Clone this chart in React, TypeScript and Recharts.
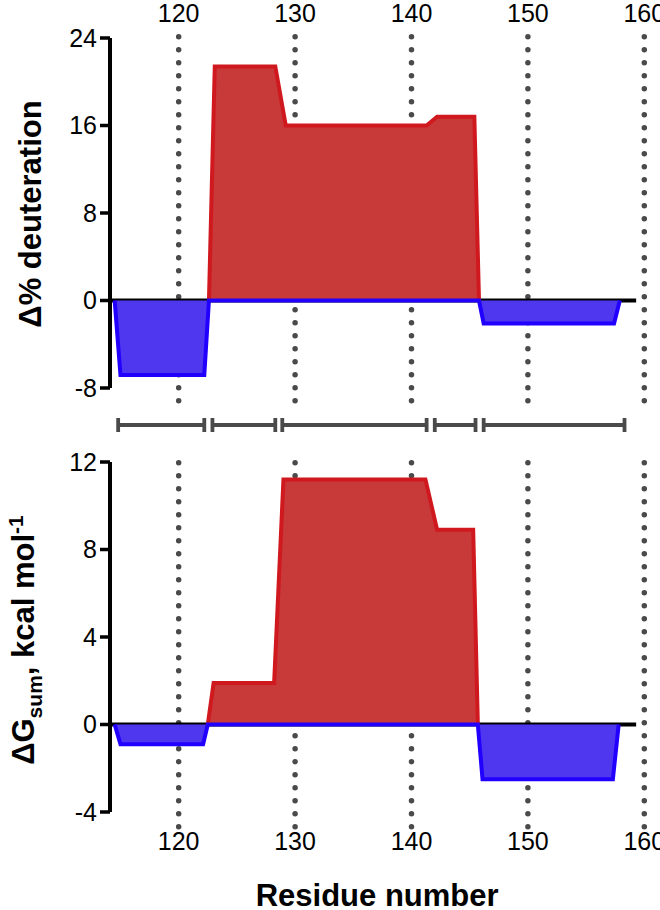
import React from "react";
import {
  ComposedChart,
  Area,
  XAxis,
  YAxis,
  ReferenceLine,
  Scatter,
  ErrorBar,
} from "recharts";

// residue axis
const residueTicks = [120, 130, 140, 150, 160];
const deutTicks = [-8, 0, 8, 16, 24];
const dgTicks = [-4, 0, 4, 8, 12];

// Δ% deuteration profile vertices
const deutResidues = [114.5, 115.0, 122.2, 122.6, 123.1, 128.3, 129.2, 141.3, 142.2, 145.4, 145.8, 146.2, 157.4, 157.9];
const deutValues = [0, -6.8, -6.8, 0, 21.4, 21.4, 16.0, 16.0, 16.8, 16.8, 0, -2.1, -2.1, 0];

// ΔGsum profile vertices
const dgResidues = [114.5, 115.0, 122.1, 122.5, 123.0, 128.2, 129.0, 141.2, 142.2, 145.3, 145.7, 146.1, 157.3, 157.8];
const dgValues = [0, -0.9, -0.9, 0, 1.9, 1.9, 11.2, 11.2, 8.9, 8.9, 0, -2.5, -2.5, 0];

// peptide coverage
const peptideStart = [114.8, 122.9, 128.9, 142.0, 146.2];
const peptideEnd = [122.2, 128.3, 141.3, 145.5, 158.3];

const X_DOMAIN: [number, number] = [114.1, 160];
const ZERO_END = 159.3;

const RED_FILL = "#C8393A";
const RED_LINE = "#D0191E";
const BLUE_FILL = "#4F37F0";
const BLUE_LINE = "#2200FF";
const DOT_GREY = "#4A4A4A";

// split into a positive (red) and a negative (blue) part
const toRows = (res: number[], vals: number[]) =>
  res.map((r, i) => {
    const v = vals[i];
    const prev = i > 0 ? vals[i - 1] : 0;
    const next = i < vals.length - 1 ? vals[i + 1] : 0;
    const pos = v > 0 || (v === 0 && (prev > 0 || next > 0)) ? v : null;
    return { residue: r, pos, neg: Math.min(v, 0) };
  });

const deutRows = toRows(deutResidues, deutValues);
const dgRows = toRows(dgResidues, dgValues);
const peptideRows = peptideStart.map((s, i) => ({
  mid: (s + peptideEnd[i]) / 2,
  half: (peptideEnd[i] - s) / 2,
  level: 0.5,
}));

const tickStyle = { fontSize: 25, fill: "#000" };
const axisLineStyle = { stroke: "#000", strokeWidth: 4 };
const tickLineStyle = { stroke: "#000", strokeWidth: 3.5 };

const DeutLabel = () => (
  <text
    x={41}
    y={214}
    transform="rotate(-90 41 214)"
    textAnchor="middle"
    fontSize={31}
    fontWeight="bold"
    fill="#000"
  >
    Δ% deuteration
  </text>
);

const DgLabel = () => (
  <text
    x={34}
    y={200}
    transform="rotate(-90 34 200)"
    textAnchor="middle"
    fontSize={31}
    fontWeight="bold"
    fill="#000"
  >
    ΔG
    <tspan dy={8} fontSize={21}>sum</tspan>
    <tspan dy={-8}>, kcal mol</tspan>
    <tspan dy={-11} fontSize={21}>-1</tspan>
  </text>
);

// background layer: dotted residue guides and the zero line, drawn under the areas
const GuideLayer: React.FC<{
  height: number;
  rows: any[];
  margin: { top: number; right: number; bottom: number; left: number };
  yDomain: [number, number];
  dotTop: number;
  dotBottom: number;
}> = ({ height, rows, margin, yDomain, dotTop, dotBottom }) => (
  <ComposedChart width={660} height={height} data={rows} margin={margin}>
    <XAxis type="number" dataKey="residue" domain={X_DOMAIN} ticks={residueTicks} hide />
    <YAxis type="number" domain={yDomain} hide />
    {/* invisible series so the axes get their scales */}
    <Area
      type="linear"
      dataKey="neg"
      stroke="none"
      fill="none"
      dot={false}
      activeDot={false}
      isAnimationActive={false}
    />
    {residueTicks.map((t) => (
      <ReferenceLine
        key={`dot-${t}`}
        segment={[
          { x: t, y: dotTop },
          { x: t, y: dotBottom },
        ]}
        stroke={DOT_GREY}
        strokeWidth={5.5}
        strokeDasharray="0 13"
        strokeLinecap="round"
        ifOverflow="visible"
      />
    ))}
    <ReferenceLine
      segment={[
        { x: X_DOMAIN[0], y: 0 },
        { x: ZERO_END, y: 0 },
      ]}
      stroke="#000"
      strokeWidth={4}
      ifOverflow="visible"
    />
  </ComposedChart>
);

const profileAreas = [
  <Area
    key="pos"
    type="linear"
    dataKey="pos"
    baseValue={0}
    fill={RED_FILL}
    fillOpacity={1}
    stroke={RED_LINE}
    strokeWidth={4}
    connectNulls={false}
    dot={false}
    activeDot={false}
    isAnimationActive={false}
  />,
  <Area
    key="neg"
    type="linear"
    dataKey="neg"
    baseValue={0}
    fill={BLUE_FILL}
    fillOpacity={1}
    stroke={BLUE_LINE}
    strokeWidth={4}
    dot={false}
    activeDot={false}
    isAnimationActive={false}
  />,
];

const layer = (top: number): React.CSSProperties => ({
  position: "absolute",
  left: 0,
  top,
});

const App: React.FC = () => {
  return (
    <div
      style={{
        position: "absolute",
        left: 0,
        top: 0,
        width: 660,
        height: 910,
        background: "#fff",
        fontFamily: '"Liberation Sans", Arial, Helvetica, sans-serif',
      }}
    >
      {/* top panel */}
      <div style={layer(0)}>
        <GuideLayer
          height={410}
          rows={deutRows}
          margin={{ top: 38, right: 15.7, bottom: 22, left: 110 }}
          yDomain={[-8, 24]}
          dotTop={24.12}
          dotBottom={-9.2}
        />
      </div>
      <div style={layer(0)}>
        <ComposedChart
          width={660}
          height={410}
          data={deutRows}
          margin={{ top: 0, right: 15.7, bottom: 22, left: 0 }}
        >
          <XAxis
            type="number"
            dataKey="residue"
            orientation="top"
            domain={X_DOMAIN}
            ticks={residueTicks}
            interval={0}
            height={38}
            axisLine={false}
            tickLine={false}
            tickSize={0}
            tickMargin={16}
            tick={tickStyle}
          />
          <YAxis
            type="number"
            domain={[-8, 24]}
            ticks={deutTicks}
            interval={0}
            width={110}
            axisLine={axisLineStyle}
            tickLine={tickLineStyle}
            tickSize={10}
            tickMargin={3}
            tick={tickStyle}
            label={<DeutLabel />}
          />
          {profileAreas}
        </ComposedChart>
      </div>

      {/* peptide coverage */}
      <div style={layer(410)}>
        <ComposedChart
          width={660}
          height={30}
          data={peptideRows}
          margin={{ top: 0, right: 15.7, bottom: 0, left: 110 }}
        >
          <XAxis type="number" dataKey="mid" domain={X_DOMAIN} hide />
          <YAxis type="number" dataKey="level" domain={[0, 1]} hide />
          <Scatter dataKey="level" shape={() => <g />} isAnimationActive={false}>
            <ErrorBar
              dataKey="half"
              direction="x"
              width={7}
              stroke={DOT_GREY}
              strokeWidth={3.8}
              isAnimationActive={false}
            />
          </Scatter>
        </ComposedChart>
      </div>

      {/* bottom panel */}
      <div style={layer(440)}>
        <GuideLayer
          height={470}
          rows={dgRows}
          margin={{ top: 22, right: 15.7, bottom: 98, left: 110 }}
          yDomain={[-4, 12]}
          dotTop={11.97}
          dotBottom={-4.7}
        />
      </div>
      <div style={layer(440)}>
        <ComposedChart
          width={660}
          height={470}
          data={dgRows}
          margin={{ top: 22, right: 15.7, bottom: 0, left: 0 }}
        >
          <XAxis
            type="number"
            dataKey="residue"
            domain={X_DOMAIN}
            ticks={residueTicks}
            interval={0}
            height={98}
            axisLine={false}
            tickLine={false}
            tickSize={0}
            tickMargin={20}
            tick={tickStyle}
            label={{
              value: "Residue number",
              position: "insideBottom",
              offset: 4,
              fontSize: 31,
              fontWeight: "bold",
              fill: "#000",
            }}
          />
          <YAxis
            type="number"
            domain={[-4, 12]}
            ticks={dgTicks}
            interval={0}
            width={110}
            axisLine={axisLineStyle}
            tickLine={tickLineStyle}
            tickSize={10}
            tickMargin={3}
            tick={tickStyle}
            label={<DgLabel />}
          />
          {profileAreas}
        </ComposedChart>
      </div>
    </div>
  );
};

export default App;
